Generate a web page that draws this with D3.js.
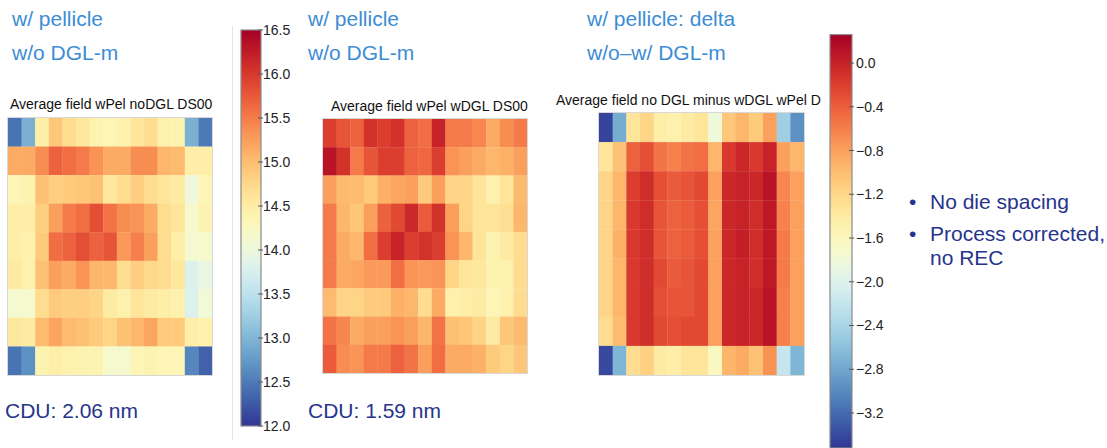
<!DOCTYPE html>
<html>
<head>
<meta charset="utf-8">
<script src="https://cdn.jsdelivr.net/npm/d3@7"></script>
<style>
  html, body { margin: 0; padding: 0; background: #fff; }
  svg { display: block; font-family: "Liberation Sans", Arial, Helvetica, sans-serif; }
</style>
</head>
<body>
<svg id="chart" width="1107" height="448"></svg>
<script>
// ---------------- DATA ----------------
const columns = d3.range(15);   // 15 field columns
const rows = d3.range(9);       // 9 field rows

// Average field wPel noDGL DS00
const fieldNoDGL = [
  [12.45,12.95,14.48,14.93,14.70,14.57,14.39,14.34,14.43,14.61,14.70,14.43,14.39,12.95,12.50],
  [15.15,15.15,15.38,15.69,15.60,15.51,15.33,15.15,15.15,15.38,15.38,15.06,15.02,14.48,14.48],
  [14.34,14.39,14.97,14.84,14.88,14.93,14.97,14.57,14.70,14.84,14.70,14.61,14.52,14.03,14.34],
  [14.48,14.48,14.84,15.24,15.51,15.60,15.83,15.56,15.38,15.33,15.15,14.70,14.61,14.16,14.39],
  [14.48,14.43,14.88,15.60,15.69,15.83,15.69,15.78,15.29,15.47,15.24,14.70,14.48,14.12,14.16],
  [14.52,14.43,14.97,15.24,15.15,15.33,15.06,15.06,14.70,14.84,14.75,14.70,14.57,13.80,13.94],
  [14.12,14.16,14.70,14.88,14.84,14.84,14.79,14.52,14.43,14.61,14.52,14.48,14.43,13.80,14.07],
  [14.57,14.52,15.02,15.20,15.02,14.97,14.88,14.79,14.97,15.06,15.20,14.88,14.88,14.48,14.43],
  [12.45,12.68,14.39,14.48,14.43,14.39,14.39,14.16,14.12,14.34,14.39,14.34,14.34,12.59,12.32]
];

// Average field wPel wDGL DS00
const fieldWDGL = [
  [15.96,15.78,15.69,16.05,15.96,16.05,15.69,15.60,16.19,15.51,15.51,15.42,15.15,15.38,15.51],
  [16.32,16.05,15.51,15.78,15.96,15.96,15.69,15.65,15.96,15.33,15.24,15.15,15.06,15.11,15.24],
  [15.24,15.02,15.02,14.88,15.11,15.20,15.24,14.88,15.24,14.79,14.79,14.61,14.43,14.61,15.02],
  [15.51,15.06,14.93,15.24,15.69,15.87,16.14,15.74,16.05,15.24,14.79,14.61,14.61,14.66,15.06],
  [15.51,15.15,15.06,15.60,15.96,16.19,15.96,16.05,15.96,15.33,15.06,14.61,14.39,14.52,14.70],
  [15.51,15.15,15.20,15.29,15.29,15.60,15.33,15.29,15.33,14.79,14.61,14.57,14.39,14.43,14.70],
  [15.02,14.79,14.79,14.88,14.88,15.11,15.06,14.70,15.15,14.43,14.48,14.52,14.34,14.43,14.70],
  [15.56,15.42,15.15,15.24,15.24,15.33,15.24,15.06,15.56,14.97,14.93,14.79,14.52,14.93,15.02],
  [15.74,15.38,15.33,15.51,15.51,15.69,15.56,15.24,15.60,15.15,15.15,15.11,14.88,14.79,14.93]
];

// Average field no DGL minus wDGL wPel (delta)
const fieldDelta = [
  [-3.44,-2.76,-1.33,-1.18,-1.44,-1.48,-1.40,-1.33,-1.82,-1.06,-0.95,-1.10,-0.80,-2.46,-2.95],
  [-1.33,-1.03,-0.42,-0.31,-0.53,-0.61,-0.53,-0.50,-0.95,-0.16,-0.04,-0.16, 0.00,-0.80,-0.95],
  [-1.18,-0.95,-0.19,-0.08,-0.31,-0.38,-0.34,-0.27,-0.80,-0.04, 0.00,-0.04, 0.11,-0.65,-0.80],
  [-1.18,-0.95,-0.16,-0.08,-0.34,-0.42,-0.38,-0.31,-0.84,-0.04, 0.00,-0.08, 0.07,-0.61,-0.80],
  [-1.18,-0.91,-0.16,-0.08,-0.34,-0.42,-0.38,-0.31,-0.80,-0.04, 0.03,-0.08, 0.07,-0.57,-0.80],
  [-1.18,-0.95,-0.16,-0.08,-0.27,-0.38,-0.34,-0.27,-0.80,-0.04, 0.00,-0.08, 0.07,-0.57,-0.80],
  [-1.18,-0.95,-0.16,-0.08,-0.31,-0.34,-0.34,-0.27,-0.80,-0.04, 0.00,-0.04, 0.11,-0.61,-0.80],
  [-1.25,-0.99,-0.16,-0.08,-0.27,-0.31,-0.27,-0.27,-0.80,-0.04, 0.00,-0.04, 0.11,-0.61,-0.80],
  [-3.41,-2.69,-1.25,-1.14,-1.40,-1.44,-1.33,-1.33,-1.63,-0.95,-0.87,-1.03,-0.72,-2.20,-2.69]
];

const fieldRange = [12.0, 16.5];
const deltaRange = [-3.52, 0.26];
const fieldTicks = [12.0, 12.5, 13.0, 13.5, 14.0, 14.5, 15.0, 15.5, 16.0, 16.5];
const deltaTicks = [0.0, -0.4, -0.8, -1.2, -1.6, -2.0, -2.4, -2.8, -3.2];

const panelTitles = ["Average field wPel noDGL DS00", "Average field wPel wDGL DS00", "Average field no DGL minus wDGL wPel D"];
const headLines = [["w/ pellicle", "w/o DGL-m"], ["w/ pellicle", "w/o DGL-m"], ["w/ pellicle: delta", "w/o\u2013w/ DGL-m"]];
const cduLabels = ["CDU: 2.06 nm", "CDU: 1.59 nm"];
const bulletLines = [["No die spacing"], ["Process corrected,", "no REC"]];

// ---------------- DRAWING ----------------
const svg = d3.select("#chart");
const interp = t => d3.interpolateRdYlBu(1 - t);
const colorField = d3.scaleSequential(interp).domain(fieldRange).clamp(true);
const colorDelta = d3.scaleSequential(interp).domain(deltaRange).clamp(true);

const BLUE = "#3c8dd4";
const NAVY = "#27348b";

// faint figure edge line
svg.append("line").attr("x1", 232.5).attr("x2", 232.5).attr("y1", 26).attr("y2", 440)
  .attr("stroke", "#e4e4e4").attr("stroke-width", 1);

function heatmap(data, color, box) {
  const x = d3.scaleBand().domain(columns).range([box.x0, box.x1]);
  const y = d3.scaleBand().domain(rows).range([box.y0, box.y1]);
  const g = svg.append("g");
  const cells = [];
  data.forEach((row, r) => row.forEach((v, c) => cells.push({r, c, v})));
  g.selectAll("rect").data(cells).join("rect")
    .attr("x", d => x(d.c)).attr("y", d => y(d.r))
    .attr("width", x.bandwidth() + 0.3).attr("height", y.bandwidth() + 0.3)
    .attr("fill", d => color(d.v));
  g.append("rect").attr("x", box.x0 - 0.5).attr("y", box.y0 - 0.5)
    .attr("width", box.x1 - box.x0 + 1).attr("height", box.y1 - box.y0 + 1)
    .attr("fill", "none").attr("stroke", "#d8d8d8").attr("stroke-width", 1);
}

heatmap(fieldNoDGL, colorField, {x0: 8, x1: 212, y0: 118, y1: 375});
heatmap(fieldWDGL, colorField, {x0: 323, x1: 527, y0: 119, y1: 373});
heatmap(fieldDelta, colorDelta, {x0: 599, x1: 804, y0: 113, y1: 375});

function colorbar(id, color, domain, yRange, x0, w, ticks, fmt, labelX) {
  const y = d3.scaleLinear().domain(domain).range(yRange);
  const grad = svg.append("defs").append("linearGradient").attr("id", id)
    .attr("x1", 0).attr("y1", 1).attr("x2", 0).attr("y2", 0);
  d3.range(0, 1.0001, 0.02).forEach(t => {
    grad.append("stop").attr("offset", t)
      .attr("stop-color", color(domain[0] + t * (domain[1] - domain[0])));
  });
  const top = Math.min(...yRange), bot = Math.max(...yRange);
  svg.append("rect").attr("x", x0).attr("y", top).attr("width", w).attr("height", bot - top)
    .attr("fill", `url(#${id})`).attr("stroke", "#8a8a8a").attr("stroke-width", 1.2);
  const axis = d3.axisRight(y).tickValues(ticks).tickFormat(fmt).tickSize(0).tickPadding(0);
  const g = svg.append("g").attr("transform", `translate(${labelX},0)`).call(axis);
  g.select(".domain").remove();
  g.selectAll("text").attr("font-size", 14).attr("fill", "#222")
    .attr("font-family", "'Liberation Sans', Arial, sans-serif");
  svg.append("g").selectAll("line").data(ticks).join("line")
    .attr("x1", x0 + w - 3).attr("x2", x0 + w + 2)
    .attr("y1", d => y(d)).attr("y2", d => y(d))
    .attr("stroke", "#555").attr("stroke-width", 1);
}

colorbar("cb1", colorField, fieldRange, [426, 30], 241, 20, fieldTicks, d3.format(".1f"), 263);
const minusFmt = v => (v < 0 ? "\u2212" : "") + Math.abs(v).toFixed(1);
colorbar("cb2", colorDelta, deltaRange, [448, 34.6], 830, 22, deltaTicks, minusFmt, 856);

// header texts
const headX = [12, 308, 587];
headLines.forEach((lines, i) => {
  lines.forEach((t, j) => {
    svg.append("text").attr("x", headX[i]).attr("y", 26 + j * 34)
      .attr("font-size", 21).attr("fill", BLUE).text(t);
  });
});

// panel titles
const titleX = [10, 331, 556];
const titleY = [109, 111, 105];
panelTitles.forEach((t, i) => {
  svg.append("text").attr("x", titleX[i]).attr("y", titleY[i])
    .attr("font-size", 14).attr("fill", "#111").text(t);
});

// CDU labels
const cduX = [5, 308];
cduLabels.forEach((t, i) => {
  svg.append("text").attr("x", cduX[i]).attr("y", 418)
    .attr("font-size", 21).attr("fill", NAVY).text(t);
});

// bullets
let by = 209;
bulletLines.forEach(lines => {
  svg.append("text").attr("x", 909).attr("y", by).attr("font-size", 21).attr("fill", NAVY).text("\u2022");
  lines.forEach((t, j) => {
    svg.append("text").attr("x", 930).attr("y", by + j * 24).attr("font-size", 21).attr("fill", NAVY).text(t);
  });
  by += 32;
});
</script>
</body>
</html>
